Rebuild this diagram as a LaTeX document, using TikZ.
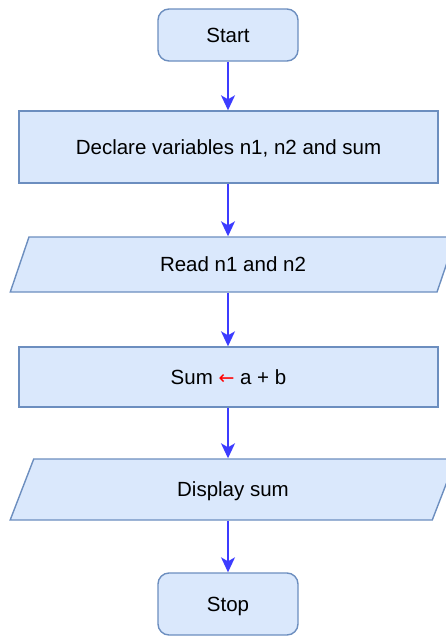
\documentclass[tikz,border=0pt]{standalone}
\usepackage{fontspec}
\setmainfont{Liberation Sans}
\newfontfamily\arrowfont{DejaVu Sans}
\usetikzlibrary{shapes.geometric, arrows.meta, positioning}
\definecolor{boxfill}{HTML}{DAE8FC}
\definecolor{boxline}{HTML}{6C8EBF}
\definecolor{flowblue}{RGB}{60, 60, 255}
\tikzset{
  base/.style={draw=boxline, fill=boxfill, line width=1.4pt, text depth=0pt, font=\fontsize{20.5}{24}\selectfont},
  terminal/.style={base, rounded corners=11pt, minimum width=140pt},
  process/.style={base, minimum width=419pt},
  io/.style={base, trapezium, trapezium left angle=72, trapezium right angle=108, trapezium stretches=true, minimum width=446pt},
  flow/.style={draw=flowblue, line width=1.5pt, -{Stealth[length=15pt, width=14pt, inset=4pt]}}
}
\begin{document}
\begin{tikzpicture}[x=1pt, y=-1pt]
  \useasboundingbox (0,0) rectangle (445,637);
  \node[terminal, minimum height=52pt] (start) at (228,35) {Start};
  \node[process, minimum height=72pt] (declare) at (228.5,147) {Declare variables n1, n2 and sum};
  \node[io, minimum height=55pt] (read) at (233,264.5) {Read n1 and n2};
  \node[process, minimum height=60pt] (sum) at (228.5,377) {Sum {\color{red}\arrowfont\fontsize{19}{22}\selectfont ←} a + b};
  \node[io, minimum height=61pt] (display) at (233,489.5) {Display sum};
  \node[terminal, minimum height=62pt] (stop) at (228,604) {Stop};

  \draw[flow] (start.south) -- (start.south |- declare.north);
  \draw[flow] (start.south |- declare.south) -- (start.south |- read.north);
  \draw[flow] (start.south |- read.south) -- (start.south |- sum.north);
  \draw[flow] (start.south |- sum.south) -- (start.south |- display.north);
  \draw[flow] (start.south |- display.south) -- (stop.north);
\end{tikzpicture}
\end{document}
